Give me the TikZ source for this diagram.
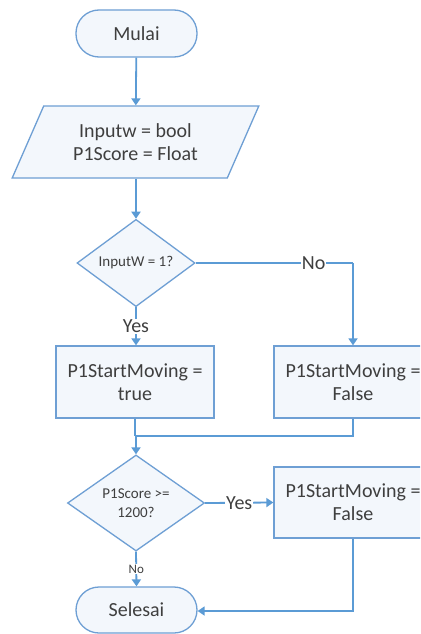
\documentclass[tikz,border=0pt]{standalone}
\usepackage{fontspec}
\setmainfont{Carlito}
\usetikzlibrary{shapes.geometric,arrows.meta}
\definecolor{lineblue}{HTML}{5B9BD5}
\definecolor{edgeblue}{HTML}{6E9FD4}
\definecolor{boxfill}{HTML}{F3F7FC}
\definecolor{txt}{HTML}{3F3F3F}
\tikzset{
  base/.style={draw=edgeblue, line width=1.3pt, fill=boxfill, text=txt, inner sep=0pt, align=center,
    font=\fontsize{20}{23}\selectfont},
  term/.style={base, rounded corners=23pt, minimum width=121pt},
  iobox/.style={base, trapezium, trapezium left angle=60, trapezium right angle=120, trapezium stretches=true,
    minimum width=247pt, minimum height=72pt},
  decision/.style={base, diamond, font=\fontsize{15}{19}\selectfont},
  procbox/.style={base, rectangle, minimum width=158pt},
  conn/.style={draw=lineblue, line width=1.8pt},
  arr/.style={conn, -{Triangle[width=9pt,length=7pt]}},
  lbl/.style={fill=white, text=txt, inner sep=1pt, font=\fontsize{20}{23}\selectfont},
  smalllbl/.style={lbl, font=\fontsize{13}{15}\selectfont}
}
\begin{document}
\begin{tikzpicture}[x=1pt,y=-1pt]
\clip (0,0) rectangle (420,634);
\fill[white] (0,0) rectangle (420,634);
\node[term, minimum height=47pt] (start) at (136.5,33.5) {Mulai};
\node[iobox] (input) at (135.5,142) {Inputw = bool\\P1Score = Float};
\node[decision, minimum width=118pt, minimum height=71pt] (d1) at (136,263) {InputW = 1?};
\node[procbox, minimum height=72pt] (p1) at (135,382) {P1StartMoving =\\true};
\node[procbox, minimum height=72pt] (p2) at (353,382) {P1StartMoving =\\False};
\node[decision, minimum width=137pt, minimum height=71pt] (d2) at (136,503) {P1Score >=\\1200?};
\node[procbox, minimum height=71pt] (p3) at (353,502.5) {P1StartMoving =\\False};
\node[term, minimum height=46pt] (stop) at (136.5,610) {Selesai};
\coordinate (m1) at (135,436);
\coordinate (m2) at (353,436);
\coordinate (c1) at (353,263);
\coordinate (r1) at (353,611);

\draw[arr] (start) -- (input);
\draw[arr] (input.south -| d1.north) -- (d1.north);
\draw[arr] (d1.south) -- node[lbl] {Yes} (d1.south |- p1.north);
\draw[conn] (d1.east) -- node[lbl, pos=0.75] {No} (c1);
\draw[arr] (c1) -- (p2.north);
\draw[conn] (p1.south) -- (m1);
\draw[conn] (p2.south) -- (m2) -- (m1);
\draw[arr] (m1 -| d2.north) -- (d2.north);
\draw[arr] (d2.east) -- node[lbl] {Yes} (p3.west);
\draw[arr] (d2.south) -- node[smalllbl] {No} (stop.north);
\draw[arr] (p3.south) -- (r1) -- (stop.east |- r1);
\end{tikzpicture}
\end{document}
